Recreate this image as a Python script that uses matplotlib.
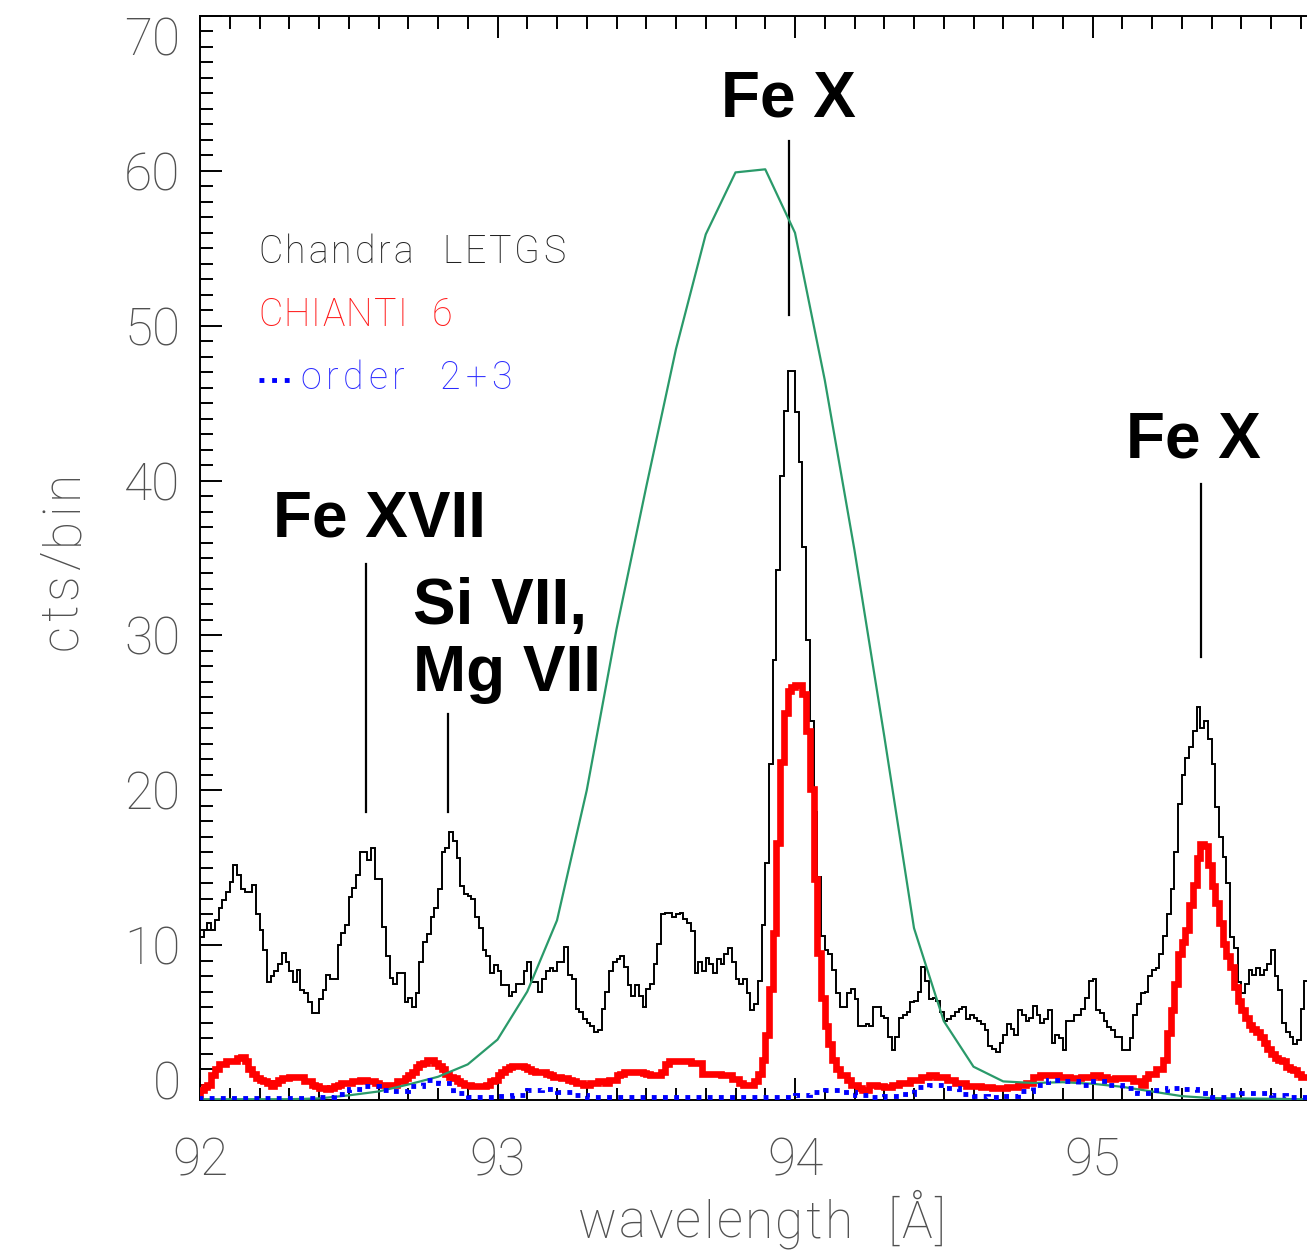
import numpy as np
import matplotlib
matplotlib.use("Agg")
import matplotlib.pyplot as plt
from matplotlib.ticker import MultipleLocator

# ---------------- data ----------------
# Chandra LETGS spectrum: counts per 0.0125 A bin starting at 92.0 A
letgs_start = 92.0
letgs_width = 0.0125
letgs_counts = [
    10.5, 11.0, 11.4, 11.0, 11.6, 12.4, 12.9, 13.4, 14.1, 15.2,
    14.5, 13.6, 13.4, 13.4, 13.9, 12.0, 11.0, 9.7, 7.6, 8.0,
    8.3, 8.8, 9.5, 8.9, 8.3, 7.6, 8.4, 7.1, 6.9, 6.3,
    5.6, 5.6, 6.5, 7.1, 8.1, 7.8, 7.8, 10.0, 10.8, 11.3,
    13.1, 13.7, 14.5, 16.0, 16.0, 15.5, 16.3, 14.3, 14.3, 11.2,
    9.3, 7.9, 7.5, 8.2, 8.2, 6.3, 6.6, 6.0, 6.9, 8.9,
    10.2, 10.7, 11.8, 12.4, 13.6, 16.0, 16.3, 17.3, 16.7, 15.6,
    13.8, 13.3, 13.2, 13.0, 11.8, 11.1, 9.7, 9.3, 8.2, 8.7,
    8.3, 7.4, 7.4, 6.7, 7.0, 7.5, 7.5, 8.3, 8.9, 7.6,
    7.6, 7.0, 7.8, 8.3, 8.5, 8.3, 8.9, 8.9, 9.9, 8.1,
    7.8, 5.9, 5.7, 5.2, 5.0, 4.8, 4.4, 4.5, 5.9, 7.0,
    8.3, 8.9, 9.1, 9.3, 8.6, 7.4, 6.7, 7.4, 6.7, 6.0,
    7.2, 7.5, 8.8, 10.1, 12.0, 12.1, 12.1, 11.8, 12.0, 12.1,
    11.7, 11.4, 10.9, 8.2, 8.9, 8.3, 9.2, 8.8, 8.2, 9.1,
    8.8, 9.4, 9.8, 8.9, 7.8, 7.5, 7.8, 6.9, 5.8, 6.2,
    7.7, 11.3, 15.3, 21.7, 28.4, 34.2, 40.3, 44.5, 47.1, 47.1,
    44.4, 41.2, 35.7, 29.7, 24.5, 18.6, 14.4, 10.6, 9.7, 9.4,
    8.4, 6.9, 6.0, 6.0, 6.9, 7.2, 6.5, 4.8, 4.8, 4.9,
    4.8, 6.0, 6.0, 5.4, 5.3, 4.1, 3.2, 4.1, 5.3, 5.5,
    5.7, 6.3, 6.4, 7.0, 8.6, 7.7, 6.5, 6.6, 6.4, 5.7,
    5.1, 5.2, 5.4, 5.7, 5.9, 6.0, 5.2, 5.5, 5.3, 5.1,
    4.9, 4.5, 3.5, 3.3, 3.1, 3.7, 4.2, 4.9, 4.6, 4.2,
    5.8, 5.5, 5.1, 5.3, 6.1, 5.5, 5.0, 5.2, 5.8, 3.7,
    4.2, 4.0, 3.2, 5.1, 5.1, 5.5, 5.5, 5.9, 6.6, 7.7,
    7.8, 5.8, 5.6, 5.1, 4.7, 4.5, 4.1, 4.1, 3.2, 3.2,
    4.0, 5.5, 6.2, 6.9, 7.0, 8.0, 8.4, 8.5, 9.4, 10.6,
    12.0, 13.6, 16.0, 19.1, 21.0, 22.1, 22.8, 23.8, 25.4, 24.0,
    24.5, 23.3, 21.7, 18.9, 17.0, 15.7, 14.0, 10.5, 9.8, 7.6,
    6.9, 7.5, 8.4, 8.1, 8.5, 8.1, 8.4, 8.8, 9.7, 8.0,
    7.1, 5.0, 4.4, 4.1, 3.6, 3.9, 5.9, 7.7, 9.6,
]

# CHIANTI 6 synthetic spectrum on the same binning
chianti_counts = [
    0.65, 0.86, 1.0, 1.6, 2.0, 2.3, 2.3, 2.5, 2.5, 2.5,
    2.7, 2.8, 2.5, 2.0, 1.7, 1.4, 1.3, 1.2, 1.1, 0.9,
    1.1, 1.3, 1.4, 1.4, 1.5, 1.5, 1.5, 1.5, 1.25, 1.25,
    1.0, 0.9, 0.8, 0.8, 0.7, 0.8, 0.9, 1.0, 1.1, 1.1,
    1.1, 1.2, 1.2, 1.3, 1.3, 1.2, 1.2, 1.1, 1.0, 1.0,
    1.0, 1.0, 1.0, 1.2, 1.2, 1.4, 1.6, 1.8, 2.1, 2.3,
    2.4, 2.6, 2.6, 2.4, 2.2, 2.0, 1.7, 1.5, 1.4, 1.2,
    1.1, 1.0, 1.0, 0.9, 0.9, 0.9, 0.9, 1.0, 1.2, 1.3,
    1.6, 1.8, 2.0, 2.1, 2.2, 2.2, 2.2, 2.1, 2.0, 1.9,
    1.8, 1.8, 1.8, 1.7, 1.6, 1.5, 1.5, 1.4, 1.4, 1.3,
    1.25, 1.1, 1.1, 1.0, 1.0, 1.1, 1.1, 1.25, 1.2, 1.1,
    1.3, 1.3, 1.6, 1.7, 1.8, 1.8, 1.8, 1.8, 1.8, 1.75,
    1.7, 1.6, 1.6, 1.6, 1.8, 2.3, 2.5, 2.5, 2.5, 2.5,
    2.5, 2.5, 2.4, 2.4, 2.4, 1.7, 1.7, 1.7, 1.7, 1.7,
    1.6, 1.6, 1.6, 1.35, 1.35, 1.1, 1.0, 0.95, 0.95, 1.25,
    1.7, 2.6, 4.2, 7.2, 10.8, 16.6, 21.8, 25.0, 26.4, 26.7,
    26.8, 26.8, 26.2, 23.8, 20.1, 14.3, 9.5, 6.6, 4.8, 3.6,
    2.6, 2.0, 1.6, 1.6, 1.3, 0.95, 0.95, 0.8, 0.65, 0.65,
    0.97, 0.97, 0.9, 0.9, 0.87, 0.87, 0.97, 0.97, 1.08, 1.08,
    1.08, 1.3, 1.3, 1.3, 1.5, 1.5, 1.6, 1.6, 1.5, 1.5,
    1.5, 1.3, 1.3, 1.08, 1.08, 1.08, 0.9, 0.9, 0.9, 0.9,
    0.82, 0.82, 0.82, 0.75, 0.75, 0.75, 0.75, 0.87, 0.87, 0.87,
    0.97, 0.97, 1.1, 1.1, 1.5, 1.5, 1.6, 1.6, 1.6, 1.6,
    1.6, 1.5, 1.5, 1.5, 1.45, 1.45, 1.45, 1.5, 1.5, 1.5,
    1.6, 1.6, 1.5, 1.5, 1.35, 1.35, 1.4, 1.4, 1.4, 1.4,
    1.4, 1.2, 1.2, 0.97, 1.4, 1.7, 1.7, 2.0, 2.0, 2.6,
    4.3, 5.8, 7.5, 9.4, 10.2, 11.0, 12.6, 13.9, 15.6, 16.5,
    16.4, 15.2, 13.8, 12.7, 11.4, 10.1, 9.3, 8.6, 7.3, 6.4,
    5.8, 5.3, 4.85, 4.6, 4.4, 4.1, 3.65, 3.3, 3.0, 2.7,
    2.6, 2.5, 2.15, 2.0, 1.94, 1.7, 1.5, 1.5, 1.4,
]

# Higher spectral orders (2+3): counts on 0.05 A bins starting at 92.0 A
order23_start = 92.0
order23_width = 0.05
order23_counts = [
    0.11, 0.11, 0.11, 0.11, 0.11, 0.11, 0.11, 0.11, 0.2, 0.4,
    0.7, 0.9, 0.65, 0.55, 0.9, 1.3, 1.1, 0.45, 0.22, 0.18,
    0.26, 0.35, 0.65, 0.72, 0.5, 0.3, 0.22, 0.2, 0.18, 0.18,
    0.2, 0.2, 0.2, 0.2, 0.2, 0.2, 0.2, 0.2, 0.2, 0.2,
    0.3, 0.5, 0.65, 0.5, 0.35, 0.22, 0.26, 0.4, 0.85, 1.0,
    0.75, 0.4, 0.26, 0.22, 0.25, 0.6, 1.0, 1.3, 1.25, 1.0,
    1.2, 0.97, 0.76, 0.45, 0.65, 0.76, 0.7, 0.43, 0.22, 0.3,
    0.43, 0.43, 0.35, 0.2, 0.17,
]

# Smooth (green) profile sampled every 0.1 A
profile_wave = [
    92.0, 92.1, 92.2, 92.3, 92.4, 92.5, 92.6, 92.7, 92.8, 92.9,
    93.0, 93.1, 93.2, 93.3, 93.4, 93.5, 93.6, 93.7, 93.8, 93.9,
    94.0, 94.1, 94.2, 94.3, 94.4, 94.5, 94.6, 94.7, 94.8, 94.9,
    95.0, 95.1, 95.2, 95.3, 95.4, 95.5, 95.6, 95.7, 95.8,
]
profile_counts = [
    0.05, 0.05, 0.05, 0.05, 0.1, 0.3, 0.55, 1.0, 1.5, 2.3,
    3.9, 7.0, 11.6, 20.0, 30.4, 39.6, 48.5, 55.9, 59.9, 60.1,
    56.0, 46.5, 35.5, 23.5, 11.1, 5.1, 2.15, 1.2, 1.1, 1.15,
    1.05, 0.85, 0.55, 0.25, 0.12, 0.1, 0.08, 0.05, 0.05,
]

# Line identifications: (label, label x, label baseline y, marker x, marker y0, marker y1, alignment)
line_ids = [
    ("Fe X", 93.977, 63.5, 93.98, 50.7, 61.9, "center"),
    ("Fe X", 95.338, 41.5, 95.365, 28.6, 39.75, "center"),
    ("Fe XVII", 92.245, 36.4, 92.558, 18.6, 34.6, "left"),
    ("Si VII,\nMg VII", 92.716, 26.4, 92.834, 18.6, 24.95, "left"),
]

xticks = [92, 93, 94, 95]
yticks = [0, 10, 20, 30, 40, 50, 60, 70]

legend_entries = [
    ("Chandra  LETGS", "#222222"),
    ("CHIANTI  6", "#ff1a1a"),
    ("order  2+3", "#2a2aff"),
]

# ---------------- figure ----------------
W, H = 1307, 1256
fig = plt.figure(figsize=(W / 100, H / 100), dpi=100)
fig.patch.set_facecolor("white")
# axes frame runs past the right edge of the canvas (92-96 A)
ax = fig.add_axes([200 / W, (H - 1100) / H, 4 * 297.5 / W, (1100 - 16) / H])

label_font = dict(family=["Roboto", "DejaVu Sans"], weight="light")
gray = "#505050"

edges = letgs_start + letgs_width * np.arange(len(letgs_counts) + 1)
ax.stairs(letgs_counts, edges, color="black", lw=1.4, zorder=3)

edges_c = letgs_start + letgs_width * np.arange(len(chianti_counts) + 1)
ax.stairs(chianti_counts, edges_c, color="#ff0000", lw=4.8, zorder=4)

ax.plot(profile_wave, profile_counts, color="#2a9a6a", lw=1.6, zorder=5)

edges_o = order23_start + order23_width * np.arange(len(order23_counts) + 1)
ax.stairs(order23_counts, edges_o, color="#0000ff", lw=3.5,
          linestyle=(0, (1, 1.3)), zorder=6)

ax.set_xlim(92, 96)
ax.set_ylim(0, 70)

ax.set_xticks(xticks)
ax.set_yticks(yticks)
ax.xaxis.set_minor_locator(MultipleLocator(0.1))
ax.yaxis.set_minor_locator(MultipleLocator(1))
ax.tick_params(which="both", direction="in", top=True, bottom=True,
               left=True, right=True, width=1.4, color="black")
ax.tick_params(which="major", length=16)
ax.tick_params(which="minor", length=9)
ax.tick_params(axis="x", which="major", pad=26, labelsize=37, labelcolor=gray)
ax.tick_params(axis="y", which="major", pad=14, labelsize=37, labelcolor=gray)
for lab in ax.get_xticklabels() + ax.get_yticklabels():
    lab.set_family(label_font["family"])
    lab.set_weight(label_font["weight"])
ylabels = ax.get_yticklabels()
ylabels[0].set_va("baseline")
ylabels[-1].set_va("top")

for sp in ax.spines.values():
    sp.set_linewidth(1.4)

renderer = fig.canvas.get_renderer()


def spread_text(s, start, end, base, size, color, vertical=False):
    """Write s letter by letter, spread evenly between pixel positions
    start and end (left->right, or bottom->top when vertical)."""
    widths = []
    for ch in s:
        probe = fig.text(0, 0, ch if ch != " " else "n", fontsize=size,
                         **label_font)
        w = probe.get_window_extent(renderer).width
        probe.remove()
        widths.append(w * 0.5 if ch == " " else w)
    gap = (abs(end - start) - sum(widths)) / (len(s) - 1)
    pos = start
    step = -1 if vertical else 1
    for ch, w in zip(s, widths):
        if ch != " ":
            if vertical:
                fig.text(base / W, 1 - pos / H, ch, fontsize=size, color=color,
                         rotation=90, rotation_mode="anchor", ha="left",
                         va="baseline", **label_font)
            else:
                fig.text(pos / W, 1 - base / H, ch, fontsize=size, color=color,
                         ha="left", va="baseline", **label_font)
        pos += step * (w + gap)


# axis titles
spread_text("wavelength  [Å]", 578, 945, 1238, 37, gray)
spread_text("cts/bin", 650, 470, 77, 37, gray, vertical=True)

# legend as coloured text
legend_spans = [(258, 565, 263), (258, 452, 326), (300, 512, 389)]
for (txt, col), (x0, x1, yb) in zip(legend_entries, legend_spans):
    spread_text(txt, x0, x1, yb, 27, col)
ax.plot([92.197, 92.305], [46.5, 46.5], color="#0000ff", lw=3.5,
        linestyle=(0, (1, 1.6)), solid_capstyle="butt")

# line identifications
for text, tx, ty, mx, my0, my1, align in line_ids:
    ax.text(tx, ty, text, ha=align, va="baseline", fontsize=46,
            fontweight="bold", family=["Liberation Sans", "DejaVu Sans"],
            color="black", linespacing=1.15)
    ax.plot([mx, mx], [my0, my1], color="black", lw=1.6)

fig.savefig("out.png", dpi=100)
